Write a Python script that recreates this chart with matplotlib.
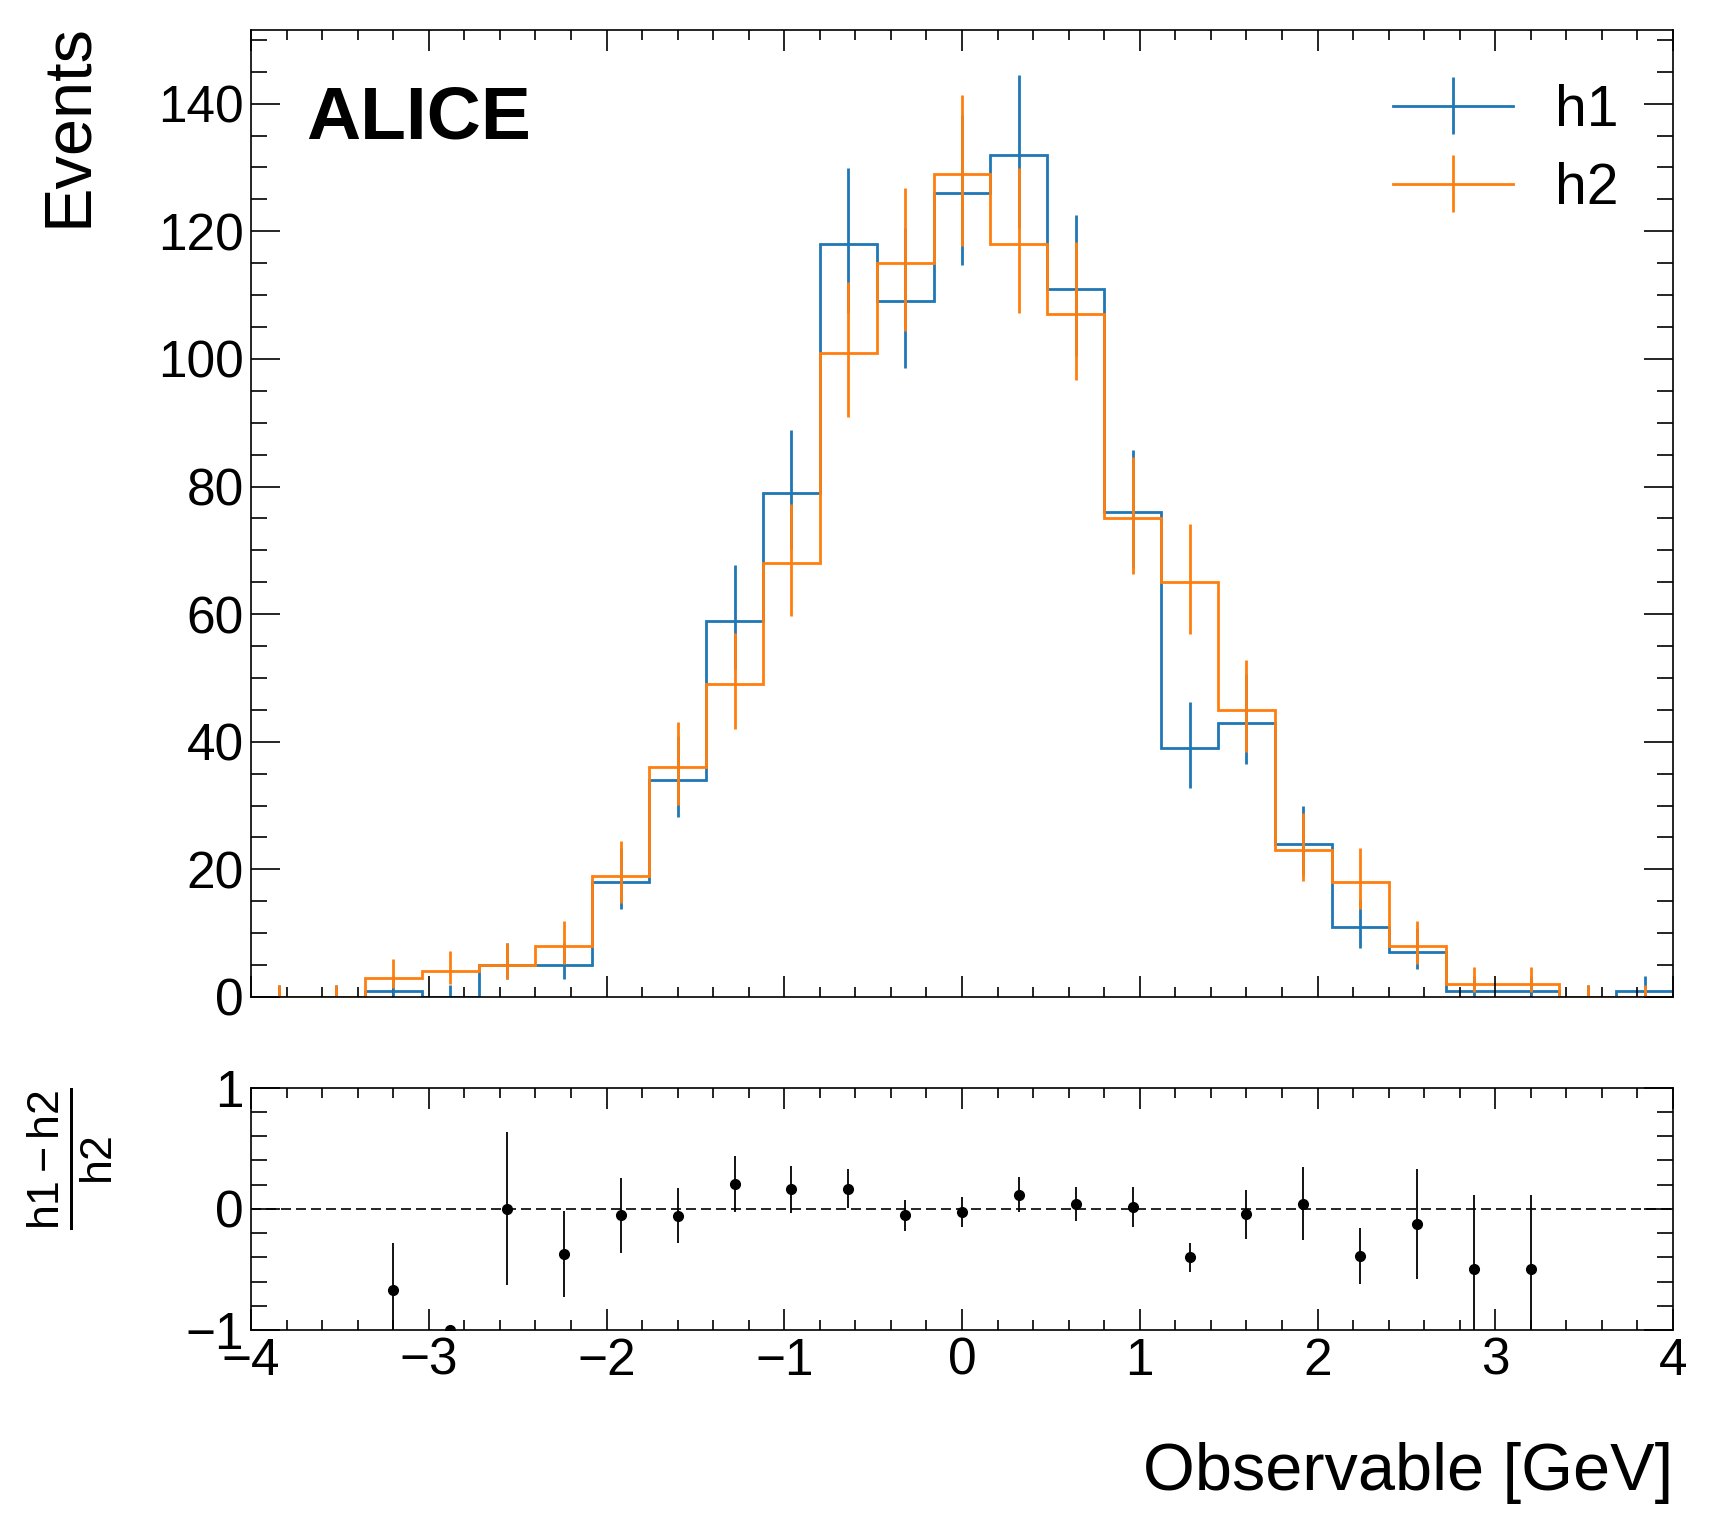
import math
import numpy as np
import matplotlib
matplotlib.use("Agg")
import matplotlib.pyplot as plt
from matplotlib.ticker import MultipleLocator

# Data (25 bins of width 0.32 from -4 to 4)
bin_edges = np.linspace(-4, 4, 26)
h1_counts = [0, 0, 1, 0, 5, 5, 18, 34, 59, 79, 118, 109, 126,
             132, 111, 76, 39, 43, 24, 11, 7, 1, 1, 0, 1]
h2_counts = [0, 0, 3, 4, 5, 8, 19, 36, 49, 68, 101, 115, 129,
             118, 107, 75, 65, 45, 23, 18, 8, 2, 2, 0, 0]

plt.rcParams['font.family'] = ['Liberation Sans', 'DejaVu Sans']
plt.rcParams['mathtext.fontset'] = 'custom'
plt.rcParams['mathtext.rm'] = 'Liberation Sans'
plt.rcParams['mathtext.it'] = 'Liberation Sans'
plt.rcParams['mathtext.default'] = 'regular'


def pois_cdf(k, mu):
    if k < 0:
        return 0.0
    if mu <= 0:
        return 1.0
    return sum(math.exp(-mu + i * math.log(mu) - math.lgamma(i + 1)) for i in range(k + 1))


def solve(f, target, lo, hi):
    # f decreasing in mu
    for _ in range(80):
        mid = 0.5 * (lo + hi)
        if f(mid) > target:
            lo = mid
        else:
            hi = mid
    return 0.5 * (lo + hi)


def poisson_interval(counts):
    q = 0.5 * (1 - 0.682689492)
    lows, highs = [], []
    for n in counts:
        n = int(n)
        top = n + 10 * math.sqrt(n + 1) + 10
        low = 0.0 if n == 0 else solve(lambda m: pois_cdf(n - 1, m), 1 - q, 0.0, top)
        high = solve(lambda m: pois_cdf(n, m), q, 0.0, top)
        lows.append(n - low)
        highs.append(high - n)
    return np.array(lows), np.array(highs)


h1 = np.array(h1_counts, dtype=float)
h2 = np.array(h2_counts, dtype=float)
centers = 0.5 * (bin_edges[1:] + bin_edges[:-1])

fig = plt.figure(figsize=(17.17, 15.35), dpi=100)
ax = fig.add_axes([0.1462, 0.3505, 0.8282, 0.6302])
rax = fig.add_axes([0.1462, 0.1336, 0.8282, 0.1577], sharex=ax)

blue, orange = '#1f77b4', '#ff7f0e'
lw = 2.0
for vals, col, lab in [(h1, blue, 'h1'), (h2, orange, 'h2')]:
    ax.stairs(vals, bin_edges, color=col, lw=lw, baseline=None)
    lo, hi = poisson_interval(vals)
    ax.errorbar(centers, vals, yerr=[lo, hi], fmt='none', ecolor=col, elinewidth=lw)
    ax.errorbar([], [], yerr=[], color=col, lw=lw, label=lab)

ax.set_xlim(-4, 4)
ax.set_ylim(0, 151.6)
ax.set_ylabel('Events', fontsize=48, loc='top')
ax.yaxis.set_label_coords(-0.106, 1.007)
ax.text(0.039, 0.943, 'ALICE', transform=ax.transAxes, fontsize=54,
        fontweight='bold', ha='left', va='top')
ax.legend(loc='upper right', fontsize=41, frameon=False, handlelength=2.1,
          handletextpad=0.75, labelspacing=0.42, borderaxespad=0.55)

# ratio panel
with np.errstate(divide='ignore', invalid='ignore'):
    ratio = h1 / h2
    ratio_err = ratio * np.sqrt(1 / h1 + 1 / h2)
ratio_err = np.where(np.isfinite(ratio_err), ratio_err, 0)
ok = h2 > 0
rax.axhline(0, color='black', lw=1.2, ls=(0, (6, 3)))
rax.errorbar(centers[ok], ratio[ok] - 1, yerr=ratio_err[ok], fmt='o', color='black',
             ms=7, elinewidth=1.3)
rax.set_ylim(-1, 1)
rax.set_xlabel('Observable [GeV]', fontsize=48, loc='right')
rax.xaxis.set_label_coords(1.0, -0.465)
rax.set_ylabel(r'$\frac{h1-h2}{h2}$', fontsize=46, loc='top')
rax.yaxis.set_label_coords(-0.096, 1.0)

for a in (ax, rax):
    a.xaxis.set_major_locator(MultipleLocator(1))
    a.xaxis.set_minor_locator(MultipleLocator(0.2))
    a.tick_params(which='both', direction='in', top=True, right=True,
                  labelsize=37, width=1.2)
    a.tick_params(axis='x', which='major', length=15, pad=5)
    a.tick_params(axis='x', which='minor', length=7)
    a.tick_params(axis='y', which='major', length=21, pad=5)
    a.tick_params(axis='y', which='minor', length=11.5)
    for s in a.spines.values():
        s.set_linewidth(1.2)
ax.yaxis.set_major_locator(MultipleLocator(20))
ax.yaxis.set_minor_locator(MultipleLocator(5))
rax.yaxis.set_major_locator(MultipleLocator(1))
rax.yaxis.set_minor_locator(MultipleLocator(0.2))
ax.tick_params(labelbottom=False)

fig.savefig('out.png', dpi=100)
